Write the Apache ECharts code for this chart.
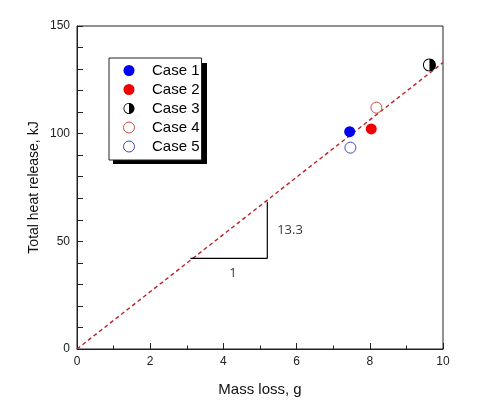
<!DOCTYPE html>
<html><head><meta charset="utf-8">
<script src="https://cdn.jsdelivr.net/npm/echarts@6/dist/echarts.min.js"></script>
<style>html,body{margin:0;padding:0;background:#fff}#c{width:490px;height:412px}</style>
</head><body><div id="c"></div>
<script>
// Data
const caseNames = ['Case 1', 'Case 2', 'Case 3', 'Case 4', 'Case 5'];
const massLoss = [7.45, 8.04, 9.63, 8.18, 7.47];
const heatRelease = [100.9, 102.2, 131.9, 112.1, 93.5];
const fitX = [0, 10];
const fitY = [0, 133];
const triX = [3.1, 5.2, 5.2];
const triY = [42.1, 42.1, 68.4];
const triLabels = ['1', '13.3'];
const triLabelX = [4.26, 5.82];
const triLabelY = [35.3, 55.3];
const xTicks = [0, 2, 4, 6, 8, 10];
const yTicks = [0, 50, 100, 150];

const halfIcon = 'path://' +
  'M0,-10 C5.523,-10 10,-5.523 10,0 C10,5.523 5.523,10 0,10 C-5.523,10 -10,5.523 -10,0 C-10,-5.523 -5.523,-10 0,-10 Z ' +
  'M0,-8.5 C-4.694,-8.5 -8.5,-4.694 -8.5,0 C-8.5,4.694 -4.694,8.5 0,8.5 C4.694,8.5 8.5,4.694 8.5,0 C8.5,-4.694 4.694,-8.5 0,-8.5 Z ' +
  'M0,-10 C5.523,-10 10,-5.523 10,0 C10,5.523 5.523,10 0,10 Z';
const styles = [
  {symbol: 'circle', fill: '#0000f0', stroke: null, size: 11},
  {symbol: 'circle', fill: '#f00000', stroke: null, size: 11},
  {symbol: halfIcon, fill: '#000', stroke: null, size: 13},
  {symbol: 'circle', fill: '#fff', stroke: '#cc4a44', size: 11},
  {symbol: 'circle', fill: '#fff', stroke: '#4646c0', size: 11}
];
const series = [];
series.push({
  type: 'line', data: fitX.map((x, i) => [x, fitY[i]]), showSymbol: false, silent: true,
  lineStyle: {color: '#bb2228', width: 1.4, type: [4, 3]}, z: 2
});
series.push({
  type: 'line', data: triX.map((x, i) => [x, triY[i]]), showSymbol: false, silent: true,
  lineStyle: {color: '#000', width: 1.2}, z: 2
});
series.push({
  type: 'scatter', data: triLabelX.map((x, i) => [x, triLabelY[i]]), symbolSize: 0, silent: true,
  label: {show: true, position: 'inside', formatter: p => triLabels[p.dataIndex], color: '#000',
    fontSize: 13, fontFamily: 'Open Sans'}
});
// white backing for half-filled marker
series.push({
  type: 'scatter', data: [[massLoss[2], heatRelease[2]]], symbol: 'circle', symbolSize: styles[2].size,
  itemStyle: {color: '#fff', opacity: 1}, silent: true, z: 3
});
caseNames.forEach((n, i) => {
  const st = styles[i];
  series.push({
    name: n, type: 'scatter', data: [[massLoss[i], heatRelease[i]]], symbol: st.symbol,
    symbolSize: st.size, symbolKeepAspect: true,
    itemStyle: st.stroke
      ? {color: st.fill, borderColor: st.stroke, borderWidth: 1, opacity: 1}
      : {color: st.fill, opacity: 1},
    emphasis: {disabled: true},
    z: 4
  });
});

const chart = echarts.init(document.getElementById('c'));
chart.setOption({
  animation: false,
  backgroundColor: '#fff',
  textStyle: {fontFamily: 'Liberation Sans, Arial'},
  grid: {left: 77, right: 47, top: 26, bottom: 63, show: true, borderColor: '#222', borderWidth: 1, backgroundColor: 'transparent'},
  graphic: [{
    type: 'rect', left: 113, top: 63, shape: {width: 94, height: 101},
    style: {fill: '#000'}, z: 0, silent: true
  }],
  legend: {
    orient: 'vertical', left: 109, top: 58, z: 5,
    data: caseNames.map((n, i) => styles[i].stroke
      ? {name: n, icon: styles[i].symbol, itemStyle: {color: '#fff', borderColor: styles[i].stroke, borderWidth: 1}}
      : {name: n, icon: styles[i].symbol}),
    itemWidth: 36, itemHeight: 11, itemGap: 4, padding: [5, 2, 6, 14],
    backgroundColor: '#fff', borderColor: '#222', borderWidth: 1,
    textStyle: {fontSize: 15, color: '#000', fontFamily: 'Liberation Sans, Arial'},
    symbolKeepAspect: true
  },
  xAxis: {
    type: 'value', min: xTicks[0], max: xTicks[xTicks.length - 1], interval: 2,
    name: 'Mass loss, g', nameLocation: 'middle', nameGap: 33, nameMoveOverlap: false,
    nameTextStyle: {fontSize: 15, color: '#111'},
    axisLine: {lineStyle: {color: '#222'}},
    axisTick: {inside: true, length: 6, lineStyle: {color: '#222'}},
    minorTick: {show: true, splitNumber: 2, length: 3.5, lineStyle: {color: '#222'}},
    axisLabel: {fontSize: 12, color: '#222', margin: 7},
    splitLine: {show: false}
  },
  yAxis: {
    type: 'value', min: yTicks[0], max: yTicks[yTicks.length - 1], interval: 50,
    name: 'Total heat release, kJ', nameLocation: 'middle', nameGap: 36, nameMoveOverlap: false,
    nameTextStyle: {fontSize: 14, color: '#111'},
    axisLine: {lineStyle: {color: '#222'}},
    axisTick: {inside: true, length: 6, lineStyle: {color: '#222'}},
    minorTick: {show: true, splitNumber: 5, length: 6, lineStyle: {color: '#222'}},
    axisLabel: {fontSize: 12, color: '#222', margin: 7},
    splitLine: {show: false}
  },
  series: series
});
</script></body></html>
